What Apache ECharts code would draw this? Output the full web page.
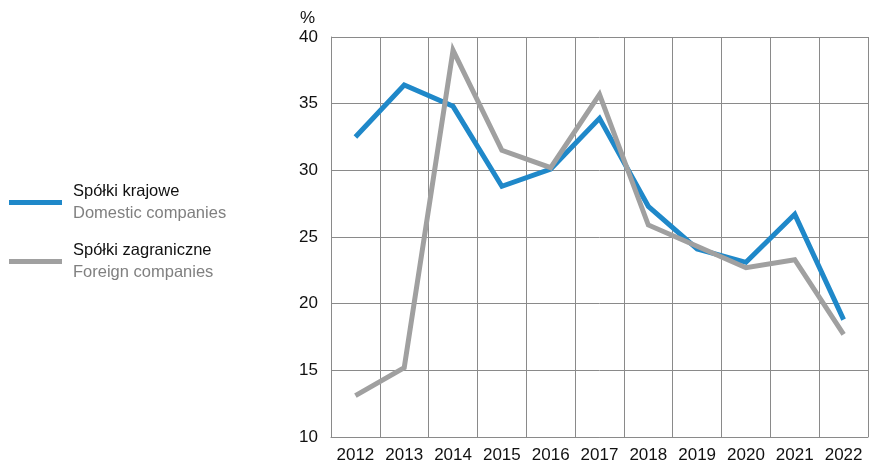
<!DOCTYPE html>
<html><head><meta charset="utf-8">
<script src="https://cdn.jsdelivr.net/npm/echarts@6/dist/echarts.min.js"></script>
<style>html,body{margin:0;padding:0;background:#fff}#c{width:871px;height:464px}</style>
</head><body><div id="c"></div>
<script>
const years = ['2012','2013','2014','2015','2016','2017','2018','2019','2020','2021','2022'];
const domestic = [32.5, 36.4, 34.8, 28.8, 30.1, 33.9, 27.3, 24.1, 23.1, 26.7, 18.8];
const foreign = [13.1, 15.2, 39.0, 31.5, 30.2, 35.7, 25.9, 24.3, 22.7, 23.3, 17.7];
const namesPl = ['Spółki krajowe', 'Spółki zagraniczne'];
const namesEn = ['Domestic companies', 'Foreign companies'];
const yTicks = {min: 10, max: 40, interval: 5};

const font = 'Liberation Sans, Arial, sans-serif';
const gridColor = '#8a8a8a';
const chart = echarts.init(document.getElementById('c'));
chart.setOption({
  animation: false,
  textStyle: {fontFamily: font},
  grid: {left: 331, right: 3, top: 37, bottom: 27, containLabel: false},
  legend: {
    orient: 'vertical', left: 9, top: 183, itemGap: 20, padding: 0,
    icon: 'rect', itemWidth: 53, itemHeight: 5,
    data: namesPl,
    formatter: function (n) {
      const i = namesPl.indexOf(n);
      return '{a|' + n + '}\n{b|' + namesEn[i] + '}';
    },
    textStyle: {
      padding: [0, 0, 0, 6],
      rich: {
        a: {fontFamily: font, fontSize: 16.5, color: '#111', lineHeight: 22},
        b: {fontFamily: font, fontSize: 16.5, color: '#808080', lineHeight: 22}
      }
    }
  },
  xAxis: {
    type: 'category', data: years, boundaryGap: true,
    axisLine: {lineStyle: {color: gridColor, width: 1}},
    axisTick: {show: false},
    axisLabel: {fontSize: 17, color: '#111', margin: 10, interval: 0, fontFamily: font},
    splitLine: {show: true, interval: 0, lineStyle: {color: gridColor, width: 1}}
  },
  yAxis: {
    type: 'value', min: yTicks.min, max: yTicks.max, interval: yTicks.interval,
    name: '%', nameLocation: 'end', nameGap: 10,
    nameTextStyle: {fontSize: 17, color: '#111', align: 'right', padding: [0, 16, 0, 0], fontFamily: font},
    axisLine: {show: true, lineStyle: {color: gridColor, width: 1}},
    axisTick: {show: false},
    axisLabel: {fontSize: 17, color: '#111', margin: 13, fontFamily: font},
    splitLine: {show: true, lineStyle: {color: gridColor, width: 1}}
  },
  series: [
    {name: namesPl[0], type: 'line', data: domestic, symbol: 'none',
     lineStyle: {color: '#1f88c9', width: 5, join: 'miter'}, itemStyle: {color: '#1f88c9'}},
    {name: namesPl[1], type: 'line', data: foreign, symbol: 'none',
     lineStyle: {color: '#a0a0a0', width: 5, join: 'miter'}, itemStyle: {color: '#a0a0a0'}}
  ]
});
</script></body></html>
